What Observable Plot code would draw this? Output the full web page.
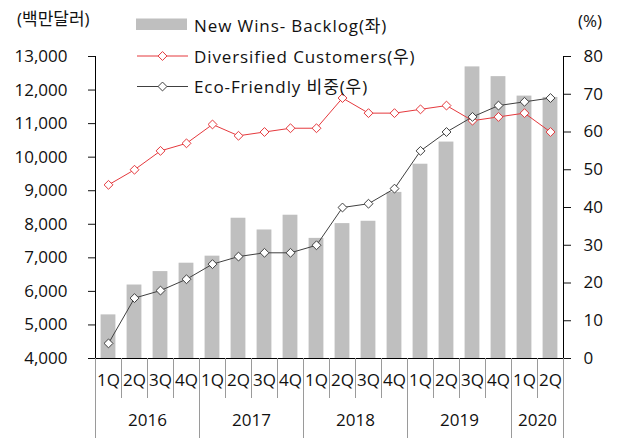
<!DOCTYPE html>
<html><head><meta charset="utf-8">
<script src="https://cdn.jsdelivr.net/npm/d3@7"></script>
<script src="https://cdn.jsdelivr.net/npm/@observablehq/plot@0.6"></script>
<style>
body{margin:0;background:#fff;font-family:"Open Sans","Noto Sans CJK KR",sans-serif;}
#wrap{position:relative;width:625px;height:443px;overflow:hidden;}
.lbl{position:absolute;font-size:17px;line-height:17px;color:#111;white-space:nowrap;}
.leg{letter-spacing:0.9px;}
#legend{position:absolute;left:0;top:0;}
</style></head><body><div id="wrap"></div>
<script>
const quarters = ["1Q","2Q","3Q","4Q","1Q","2Q","3Q","4Q","1Q","2Q","3Q","4Q","1Q","2Q","3Q","4Q","1Q","2Q"];
const years = ["2016","2016","2016","2016","2017","2017","2017","2017","2018","2018","2018","2018","2019","2019","2019","2019","2020","2020"];
const backlog = [5300, 6190, 6590, 6840, 7050, 8180, 7830, 8270, 7580, 8020, 8090, 8950, 9790, 10450, 12690, 12400, 11820, 11780];
const diversified = [46, 50, 55, 57, 62, 59, 60, 61, 61, 69, 65, 65, 66, 67, 63, 64, 65, 60];
const ecoFriendly = [4, 16, 18, 21, 25, 27, 28, 28, 30, 40, 41, 45, 55, 60, 64, 67, 68, 69];
const leftTicks = [4000, 5000, 6000, 7000, 8000, 9000, 10000, 11000, 12000, 13000];
const rightTicks = [0, 10, 20, 30, 40, 50, 60, 70, 80];
const seriesNames = ["New Wins- Backlog(좌)", "Diversified Customers(우)", "Eco-Friendly 비중(우)"];
const leftUnit = "(백만달러)";
const rightUnit = "(%)";

const yMin = leftTicks[0], yMax = leftTicks[leftTicks.length - 1];
const pMax = rightTicks[rightTicks.length - 1];
const toLeft = p => yMin + p * (yMax - yMin) / pMax;
const RED = "#e5393d", DARK = "#404040", GRAY = "#bfbfbf";
const FONT = '"Open Sans","Noto Sans CJK KR",sans-serif';
const FS = 17;

const rows = quarters.map((q, i) => ({i, q, year: years[i], backlog: backlog[i], div: diversified[i], eco: ecoFriendly[i]}));
const yearGroups = d3.groups(rows, d => d.year).map(([year, g]) => ({year, start: g[0].i, end: g[g.length - 1].i + 1}));
const boundaries = [...rows.map(d => d.i), rows.length];
const yearBounds = [...yearGroups.map(g => g.start), rows.length];
const mid = d => d.i + 0.5;

const chart = Plot.plot({
  width: 625, height: 443,
  marginLeft: 95, marginRight: 62, marginTop: 56, marginBottom: 85,
  style: {fontFamily: FONT, fontSize: FS + "px", color: "#111", background: "transparent", overflow: "visible"},
  x: {type: "linear", domain: [0, rows.length], axis: null},
  y: {domain: [yMin, yMax], axis: null},
  marks: [
    Plot.rectY(rows, {x1: "i", x2: d => d.i + 1, y1: yMin, y2: "backlog", fill: GRAY, insetLeft: 5.6, insetRight: 5.6}),
    Plot.ruleX([0, rows.length], {stroke: "#000", strokeWidth: 1}),
    Plot.ruleY([yMin], {stroke: "#000", strokeWidth: 1}),
    Plot.axisY({anchor: "left", ticks: leftTicks, tickFormat: d3.format(","), tickSize: 7, tickPadding: 21, label: null, fontSize: FS}),
    Plot.axisY({anchor: "right", ticks: rightTicks.map(toLeft), tickFormat: v => String(Math.round((v - yMin) * pMax / (yMax - yMin))), tickSize: 7, tickPadding: 13, label: null, fontSize: FS}),
    Plot.axisX({ticks: boundaries, tickSize: 40, tickFormat: () => "", stroke: "#9a9a9a", label: null}),
    Plot.axisX({ticks: yearBounds, tickSize: 80, tickFormat: () => "", stroke: "#9a9a9a", label: null}),
    Plot.text(rows, {x: mid, text: "q", frameAnchor: "bottom", dy: 27, fontSize: FS, fill: "#111"}),
    Plot.text(yearGroups, {x: d => (d.start + d.end) / 2, text: "year", frameAnchor: "bottom", dy: 67, fontSize: FS, fill: "#111"}),
    Plot.line(rows, {x: mid, y: d => toLeft(d.div), stroke: RED, strokeWidth: 1}),
    Plot.dot(rows, {x: mid, y: d => toLeft(d.div), symbol: "diamond2", r: 4, stroke: RED, fill: "white", strokeWidth: 1}),
    Plot.line(rows, {x: mid, y: d => toLeft(d.eco), stroke: DARK, strokeWidth: 1}),
    Plot.dot(rows, {x: mid, y: d => toLeft(d.eco), symbol: "diamond2", r: 4, stroke: DARK, fill: "white", strokeWidth: 1})
  ]
});

const wrap = document.getElementById("wrap");
wrap.appendChild(chart);

function label(text, left, cy, cls) {
  const el = document.createElement("div");
  el.className = "lbl" + (cls ? " " + cls : "");
  el.textContent = text;
  el.style.top = (cy - FS / 2) + "px";
  el.style.left = left + "px";
  wrap.appendChild(el);
  return el;
}
label(leftUnit, 17, 18);
label(rightUnit, 578, 20);

// legend swatches
const lg = d3.create("svg").attr("id", "legend").attr("width", 625).attr("height", 110);
lg.append("rect").attr("x", 136).attr("y", 18.5).attr("width", 51).attr("height", 11.5).attr("fill", GRAY);
[[RED, 56], [DARK, 86.5]].forEach(([c, y]) => {
  lg.append("line").attr("x1", 137).attr("x2", 188).attr("y1", y).attr("y2", y).attr("stroke", c).attr("stroke-width", 1);
  lg.append("path").attr("d", d3.symbol(d3.symbolDiamond2, Math.PI * 16)()).attr("transform", `translate(162.5,${y})`)
    .attr("fill", "white").attr("stroke", c).attr("stroke-width", 1);
});
wrap.appendChild(lg.node());
label(seriesNames[0], 194, 25, "leg");
label(seriesNames[1], 194, 56, "leg");
label(seriesNames[2], 194, 86.5, "leg");
</script></body></html>
